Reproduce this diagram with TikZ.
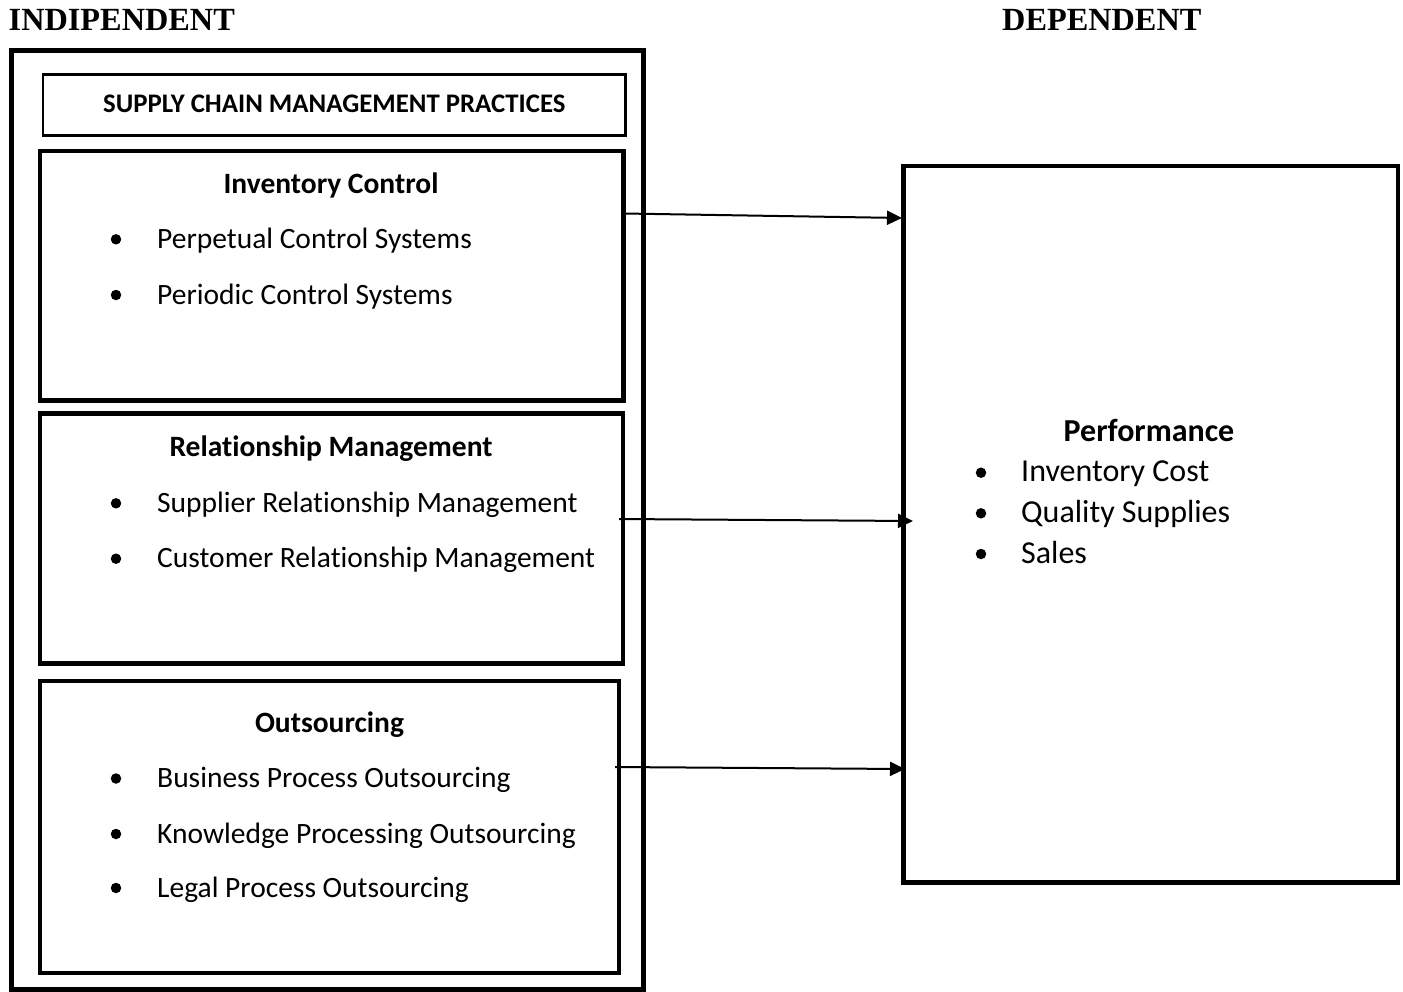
\documentclass[tikz,border=0pt]{standalone}
\usepackage{fontspec}
\setmainfont{Carlito}[Ligatures=NoCommon]
\newfontfamily\titlefont{Liberation Serif}
\usetikzlibrary{arrows.meta,fit}

\tikzset{
  frame/.style={draw, line width=4.5pt, inner sep=0pt, outer sep=0pt},
  thinframe/.style={draw, line width=2.5pt, inner sep=0pt, outer sep=0pt},
  body/.style={inner sep=0pt, font=\fontsize{29.5}{34}\selectfont},
  bigbody/.style={inner sep=0pt, font=\fontsize{32}{38}\selectfont},
  heading/.style={inner sep=0pt, font=\fontsize{29.5}{34}\selectfont\bfseries},
  bighead/.style={inner sep=0pt, font=\fontsize{32}{38}\selectfont\bfseries},
  smallhead/.style={inner sep=0pt, font=\fontsize{26.8}{30}\selectfont\bfseries},
  sidetitle/.style={inner sep=0pt, font=\fontsize{32.3}{36}\titlefont\bfseries},
  dot/.style={circle, fill, inner sep=0pt, minimum size=10.5pt},
  link/.style={line width=2pt, -{Triangle[length=15pt,width=14pt]}}
}

\begin{document}
\begin{tikzpicture}[x=1pt,y=-1pt]
\useasboundingbox (0,0) rectangle (1403,991);

% column titles
\node[sidetitle, anchor=base west] (indep) at (8.5,30) {INDIPENDENT};
\node[sidetitle, anchor=base west] (dep) at (1002,30) {DEPENDENT};

% independent variables
\node[frame, line width=5pt, fit={(11,50.5) (643,989)}] (outer) {};
\node[thinframe, fit={(43,74.7) (625.5,135.3)}] (scm) {};
\node[smallhead, anchor=base] (scmtxt) at (334.3,112.7) {SUPPLY CHAIN MANAGEMENT PRACTICES};

\node[frame, fit={(40,150.8) (623.5,400.5)}] (inv) {};
\node[frame, fit={(40,413.5) (623,663.5)}] (rel) {};
\node[frame, fit={(40,681) (619,973)}] (out) {};

% Inventory Control
\node[heading, anchor=base] (invh) at (331,193.3) {Inventory Control};
\node[dot] (invb1) at (116,239.3) {};
\node[body, anchor=base west] (inv1) at (157,248.3) {Perpetual Control Systems};
\node[dot] (invb2) at (116,295) {};
\node[body, anchor=base west] (inv2) at (157,304) {Periodic Control Systems};

% Relationship Management
\node[heading, anchor=base] (relh) at (331,456) {Relationship Management};
\node[dot] (relb1) at (116,503.3) {};
\node[body, anchor=base west] (rel1) at (157,512.3) {Supplier Relationship Management};
\node[dot] (relb2) at (116,558.7) {};
\node[body, anchor=base west] (rel2) at (157,567.7) {Customer Relationship Management};

% Outsourcing
\node[heading, anchor=base] (outh) at (329.5,732.3) {Outsourcing};
\node[dot] (outb1) at (116,778.5) {};
\node[body, anchor=base west] (out1) at (157,787.5) {Business Process Outsourcing};
\node[dot] (outb2) at (116,834) {};
\node[body, anchor=base west] (out2) at (157,843) {Knowledge Processing Outsourcing};
\node[dot] (outb3) at (116,888) {};
\node[body, anchor=base west] (out3) at (157,897) {Legal Process Outsourcing};

% dependent variable
\node[frame, fit={(903.5,166) (1398,882.5)}] (perf) {};
\node[bighead, anchor=base] (perfh) at (1149,441.5) {Performance};
\node[dot] (perfb1) at (981,472.7) {};
\node[bigbody, anchor=base west] (perf1) at (1021,481.7) {Inventory Cost};
\node[dot] (perfb2) at (981,513.3) {};
\node[bigbody, anchor=base west] (perf2) at (1021,522.3) {Quality Supplies};
\node[dot] (perfb3) at (981,554) {};
\node[bigbody, anchor=base west] (perf3) at (1021,563) {Sales};

% relations
\draw[link] ([xshift=0.5pt,yshift=62.15pt]inv.east) -- ([xshift=-1.5pt,yshift=306.25pt]perf.west);
\draw[link] ([xshift=-4pt,yshift=19.5pt]rel.east) -- ([xshift=9.5pt,yshift=3.25pt]perf.west);
\draw[link] ([xshift=-4pt,yshift=60pt]out.east) -- ([xshift=1.5pt,yshift=-244.75pt]perf.west);
\end{tikzpicture}
\end{document}
